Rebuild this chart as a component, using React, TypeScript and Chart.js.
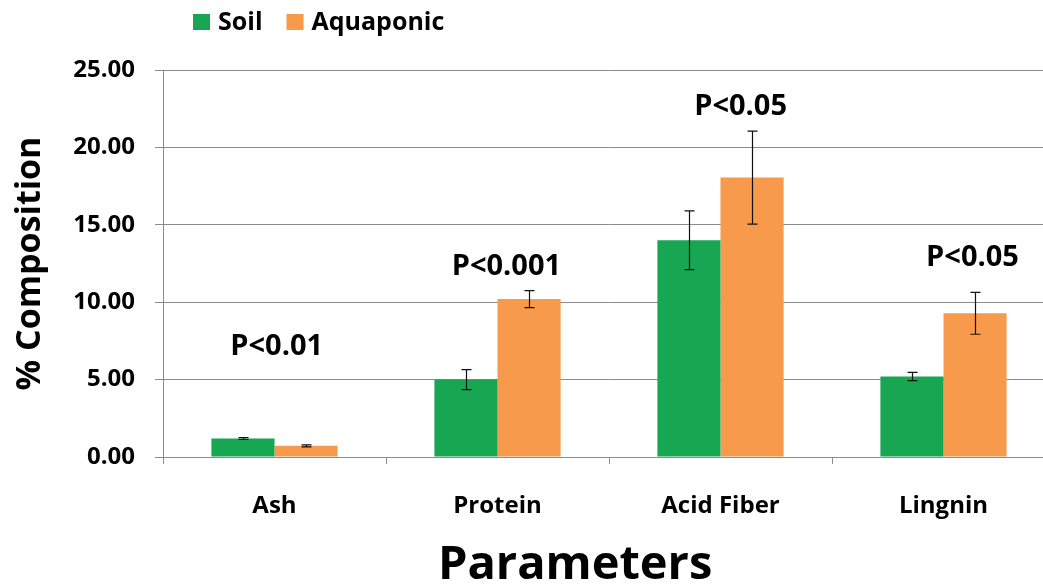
import React, { useEffect, useRef } from "react";
import { Chart, registerables } from "chart.js";

Chart.register(...registerables);

const categories = ["Ash", "Protein", "Acid Fiber", "Lingnin"];
const seriesNames = ["Soil", "Aquaponic"];
const soilValues = [1.2, 5.0, 14.0, 5.2];
const soilErrors = [0.06, 0.65, 1.9, 0.27];
const aquaValues = [0.72, 10.2, 18.05, 9.28];
const aquaErrors = [0.06, 0.55, 3.0, 1.35];
const pLabels = ["P<0.01", "P<0.001", "P<0.05", "P<0.05"];
const pLabelLevels = [7.1, 12.3, 22.6, 12.9];
const pLabelShift = [0.01, 0.04, 0.09, 0.13];
const xTitle = "Parameters";
const yTitle = "% Composition";
const yMin = 0;
const yMax = 25;
const yStep = 5;

const GREEN = "#17A652";
const ORANGE = "#F79A4B";
const FONT = "'Open Sans', Lato, sans-serif";

const errorBarPlugin = {
  id: "errorBars",
  afterDatasetsDraw(chart: any) {
    const ctx = chart.ctx;
    const y = chart.scales.y;
    const errs = [soilErrors, aquaErrors];
    ctx.save();
    ctx.strokeStyle = "#111";
    ctx.lineWidth = 1.2;
    chart.data.datasets.forEach((ds: any, di: number) => {
      const meta = chart.getDatasetMeta(di);
      meta.data.forEach((bar: any, i: number) => {
        const v = ds.data[i];
        const e = errs[di][i];
        const x = Math.round(bar.x) + 0.5;
        const yt = y.getPixelForValue(v + e);
        const yb = y.getPixelForValue(v - e);
        ctx.beginPath();
        ctx.moveTo(x, yt);
        ctx.lineTo(x, yb);
        ctx.moveTo(x - 5, yt);
        ctx.lineTo(x + 5, yt);
        ctx.moveTo(x - 5, yb);
        ctx.lineTo(x + 5, yb);
        ctx.stroke();
      });
    });
    ctx.restore();
  },
};

const annotationPlugin = {
  id: "pLabels",
  afterDraw(chart: any) {
    const ctx = chart.ctx;
    const xs = chart.scales.x;
    const ys = chart.scales.y;
    const catW = (xs.right - xs.left) / categories.length;
    ctx.save();
    ctx.fillStyle = "#000";
    ctx.font = `bold 29px ${FONT}`;
    ctx.textAlign = "center";
    ctx.textBaseline = "middle";
    pLabels.forEach((t, i) => {
      const x = xs.getPixelForValue(i) + pLabelShift[i] * catW;
      const yy = ys.getPixelForValue(pLabelLevels[i]);
      ctx.fillText(t, x, yy);
    });
    // x axis title
    ctx.font = `bold 47px ${FONT}`;
    ctx.fillText(xTitle, xs.left + (xs.right - xs.left) * 0.462, 566);
    // legend
    ctx.font = `bold 25px ${FONT}`;
    ctx.textAlign = "left";
    let lx = 193;
    const ly = 22;
    chart.data.datasets.forEach((ds: any) => {
      ctx.fillStyle = ds.backgroundColor;
      ctx.fillRect(lx, ly - 8, 17, 16);
      ctx.fillStyle = "#000";
      ctx.fillText(ds.label, lx + 25, ly + 1);
      lx += 25 + ctx.measureText(ds.label).width + 24;
    });
    ctx.restore();
  },
};

export default function App() {
  const ref = useRef<HTMLCanvasElement>(null);
  useEffect(() => {
    if (!ref.current) return;
    const chart = new Chart(ref.current, {
      type: "bar",
      data: {
        labels: categories,
        datasets: [
          { label: seriesNames[0], data: soilValues, backgroundColor: GREEN, barPercentage: 1, categoryPercentage: 0.566 },
          { label: seriesNames[1], data: aquaValues, backgroundColor: ORANGE, barPercentage: 1, categoryPercentage: 0.566 },
        ],
      },
      options: {
        responsive: false,
        maintainAspectRatio: false,
        devicePixelRatio: 1,
        animation: false,
        layout: { padding: { top: 70, right: 1, left: 0, bottom: 0 } },
        plugins: {
          legend: { display: false },
          tooltip: { enabled: false },
        },
        scales: {
          x: {
            afterFit: (s: any) => { s.height = 128; },
            grid: { drawOnChartArea: false, tickLength: 7, color: "#8c8c8c", offset: true },
            border: { display: true, color: "#8c8c8c" },
            ticks: { color: "#000", font: { family: FONT, size: 24, weight: "bold" }, padding: 28 },
          },
          y: {
            min: yMin,
            max: yMax,
            afterFit: (s: any) => { s.width = 163; },
            grid: { color: "#8c8c8c", tickLength: 8 },
            border: { display: true, color: "#8c8c8c" },
            ticks: {
              stepSize: yStep,
              color: "#000",
              padding: 20,
              font: { family: FONT, size: 24, weight: "bold" },
              callback: (v: any) => Number(v).toFixed(2),
            },
            title: {
              display: true,
              text: yTitle,
              color: "#000",
              font: { family: FONT, size: 34, weight: "bold", lineHeight: 1.2 },
              padding: { top: 10, bottom: 0 },
            },
          },
        },
      },
      plugins: [errorBarPlugin, annotationPlugin],
    });
    return () => chart.destroy();
  }, []);
  return (
    <div style={{ position: "absolute", left: 0, top: 0, width: 1043, height: 585, overflow: "hidden", background: "#fff" }}>
      <canvas ref={ref} width={1056} height={585} style={{ display: "block" }} />
    </div>
  );
}
